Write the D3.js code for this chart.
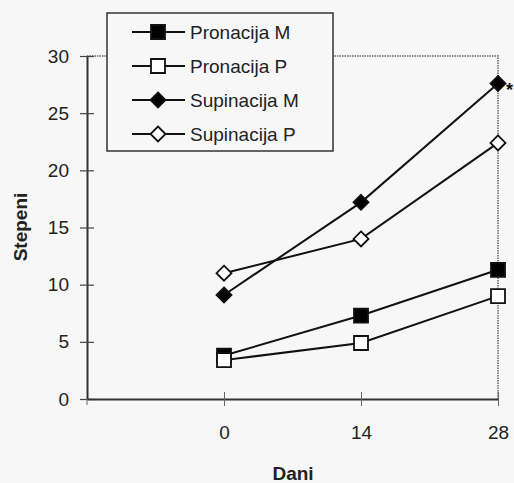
<!DOCTYPE html>
<html>
<head>
<meta charset="utf-8">
<script src="https://cdn.jsdelivr.net/npm/d3@7"></script>
<style>
  body { margin: 0; background: #f7f7f7; }
  svg { display: block; }
</style>
</head>
<body>
<svg id="chart" width="514" height="483"></svg>
<script>
const days = [0, 14, 28];
const pronacijaM = [3.8, 7.3, 11.3];
const pronacijaP = [3.4, 4.9, 9.0];
const supinacijaM = [9.1, 17.2, 27.6];
const supinacijaP = [11.0, 14.0, 22.4];
const yTicks = [0, 5, 10, 15, 20, 25, 30];

const series = [
  { name: "Pronacija M", values: pronacijaM, shape: "square", fill: "#000" },
  { name: "Pronacija P", values: pronacijaP, shape: "square", fill: "#fff" },
  { name: "Supinacija M", values: supinacijaM, shape: "diamond", fill: "#000" },
  { name: "Supinacija P", values: supinacijaP, shape: "diamond", fill: "#fff" }
];

const svg = d3.select("#chart");
const font = "Liberation Sans, Arial, sans-serif";

const margin = { left: 87, top: 56, right: 16, bottom: 84 };
const width = 514, height = 483;
const innerW = width - margin.left - margin.right;
const innerH = height - margin.top - margin.bottom;

const xScale = d3.scaleLinear().domain([-14, 28]).range([0, innerW]);
const yScale = d3.scaleLinear().domain([0, 30]).range([innerH, 0]);

const g = svg.append("g").attr("transform", `translate(${margin.left},${margin.top})`);

// top / right border (dotted, like the scan)
g.append("path")
  .attr("d", `M0,0H${innerW}V${innerH}`)
  .attr("fill", "none")
  .attr("stroke", "#666")
  .attr("stroke-width", 1.5)
  .attr("stroke-dasharray", "1.5,1");

// y axis
const yAxis = g.append("g")
  .call(d3.axisLeft(yScale).tickValues(yTicks).tickSize(0).tickPadding(18));
yAxis.select(".domain").attr("stroke", "#333").attr("stroke-width", 2);
yAxis.selectAll(".tick text")
  .attr("font-family", font).attr("font-size", 19).attr("fill", "#222");
yAxis.selectAll(".tick")
  .append("line").attr("x1", -7).attr("x2", 7).attr("stroke", "#444").attr("stroke-width", 1.2);

// x axis
const xAxis = g.append("g")
  .attr("transform", `translate(0,${innerH})`)
  .call(d3.axisBottom(xScale).tickValues(days).tickSize(0).tickPadding(27));
xAxis.select(".domain").attr("stroke", "#333").attr("stroke-width", 2);
xAxis.selectAll(".tick text")
  .attr("font-family", font).attr("font-size", 19).attr("fill", "#222");
xAxis.selectAll(".tick")
  .append("line").attr("y1", -7).attr("y2", 7).attr("stroke", "#666").attr("stroke-width", 1);
xAxis.append("line").attr("x1", 0).attr("x2", 0).attr("y1", 0).attr("y2", 6)
  .attr("stroke", "#666");

// axis titles
svg.append("text")
  .attr("transform", `translate(27,227) rotate(-90)`)
  .attr("text-anchor", "middle")
  .attr("font-family", font).attr("font-size", 19).attr("font-weight", "bold")
  .attr("fill", "#222")
  .text("Stepeni");

svg.append("text")
  .attr("x", 293).attr("y", 480)
  .attr("text-anchor", "middle")
  .attr("font-family", font).attr("font-size", 19).attr("font-weight", "bold")
  .attr("fill", "#222")
  .text("Dani");

const markerPath = (shape) => shape === "square"
  ? "M-7,-7H7V7H-7Z"
  : "M0,-7.5L7.5,0L0,7.5L-7.5,0Z";

const line = d3.line()
  .x((d, i) => xScale(days[i]))
  .y(d => yScale(d));

series.forEach(s => {
  g.append("path")
    .attr("d", line(s.values))
    .attr("fill", "none")
    .attr("stroke", "#111")
    .attr("stroke-width", 2);
});
series.forEach(s => {
  g.selectAll(null)
    .data(s.values)
    .enter()
    .append("path")
    .attr("d", markerPath(s.shape))
    .attr("transform", (d, i) => `translate(${xScale(days[i])},${yScale(d)})`)
    .attr("fill", s.fill)
    .attr("stroke", "#111")
    .attr("stroke-width", 1.8);
});

// asterisk for significant difference
g.append("text")
  .attr("x", xScale(28) + 8)
  .attr("y", yScale(supinacijaM[2]) + 13)
  .attr("font-family", font).attr("font-size", 18).attr("font-weight", "bold")
  .attr("fill", "#111")
  .text("*");

// legend
const legend = svg.append("g");
legend.append("rect")
  .attr("x", 107).attr("y", 13).attr("width", 226).attr("height", 138)
  .attr("fill", "#f7f7f7")
  .attr("stroke", "#333").attr("stroke-width", 1.5);

series.forEach((s, i) => {
  const cy = 32 + i * 34;
  legend.append("line")
    .attr("x1", 132).attr("x2", 185).attr("y1", cy).attr("y2", cy)
    .attr("stroke", "#111").attr("stroke-width", 2);
  legend.append("path")
    .attr("d", markerPath(s.shape))
    .attr("transform", `translate(158,${cy})`)
    .attr("fill", s.fill)
    .attr("stroke", "#111").attr("stroke-width", 1.8);
  legend.append("text")
    .attr("x", 190).attr("y", cy + 7)
    .attr("font-family", font).attr("font-size", 19)
    .attr("fill", "#222")
    .text(s.name);
});
</script>
</body>
</html>
